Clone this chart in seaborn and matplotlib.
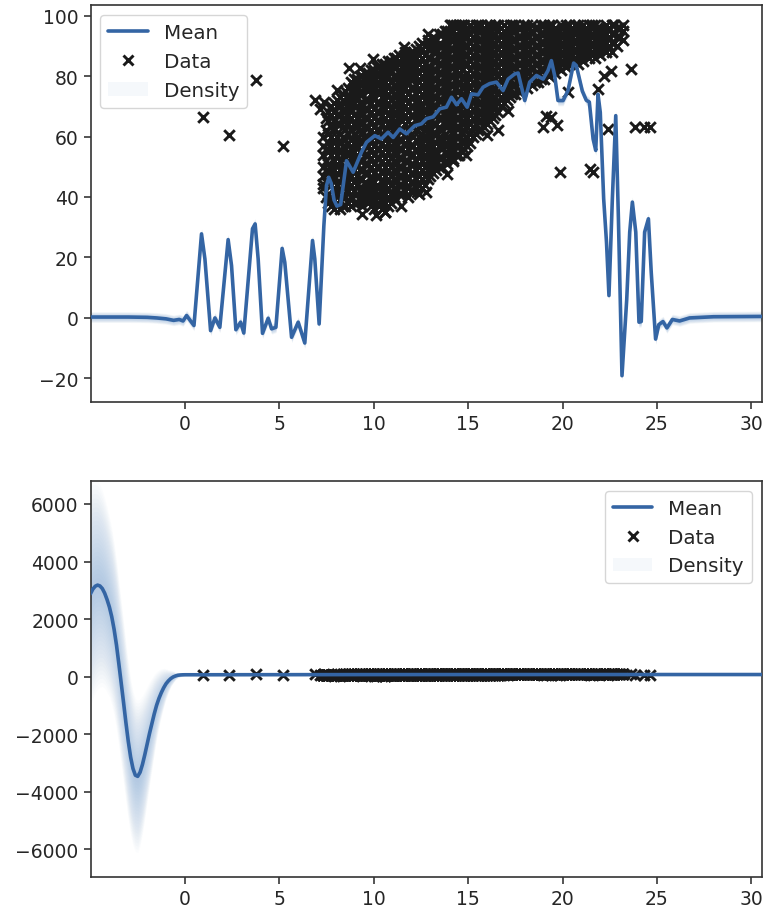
import numpy as np
import pandas as pd
import matplotlib
matplotlib.use("Agg")
import matplotlib.pyplot as plt
import seaborn as sns
from matplotlib.lines import Line2D
from matplotlib.patches import Patch

# ---------------- data ----------------
# isolated data points and ragged cloud edges
outlier_x = [0.97, 2.35, 3.76, 5.2, 6.88, 7.29, 7.55, 8.7, 10.59, 11.0, 12.27, 12.53, 13.5,
             14.12, 15.1, 13.2, 14.2, 15.62, 16.2, 16.59, 18.97, 19.1, 19.4, 19.7, 19.85,
             20.29, 21.44, 21.6, 21.88, 22.2, 22.41, 22.59, 22.7, 23.0, 23.64, 23.82, 24.3, 24.65,
             7.15, 7.35, 8.05, 9.25, 9.95, 11.6, 12.9, 10.1, 11.45, 12.75, 13.9, 14.9, 16.0,
             17.1, 9.4]
outlier_y = [66.4, 60.6, 78.8, 56.8, 72.2, 44.3, 56.0, 82.6, 35.0, 40.6, 41.6, 89.0, 91.0,
             97.0, 96.5, 50.6, 52.6, 67.5, 70.0, 62.0, 63.1, 66.7, 66.4, 63.7, 48.2,
             74.7, 49.3, 48.2, 75.8, 80.0, 62.5, 81.8, 97.0, 96.0, 82.4, 63.1, 63.1, 63.1,
             69.0, 71.5, 75.5, 82.5, 85.5, 89.5, 94.0, 34.0, 37.0, 41.5, 47.5, 54.0, 60.5,
             68.5, 34.5]

# dense cloud of data points, by column (first set)
cloud_x = [7.3, 7.6, 7.9, 8.2, 8.5, 8.8, 9.1, 9.4, 9.7, 10.0, 10.3, 10.6, 10.9, 11.2, 11.5,
           11.8, 12.1, 12.4, 12.7, 13.0, 13.3, 13.6, 13.9, 14.2, 14.5, 14.8, 15.1, 15.4,
           15.7, 16.0, 16.3, 16.6, 16.9, 17.2, 17.5, 17.8, 18.1, 18.4, 18.7, 19.0, 19.3,
           19.6, 19.9, 20.2, 20.5, 20.8, 21.1, 21.4, 21.7, 22.0, 22.3, 22.6, 22.9, 23.2]
cloud_y = [
    [43, 47, 50, 54, 57, 60],
    [38, 41, 45, 48, 51, 55, 58, 61, 65, 68],
    [36, 39, 43, 46, 49, 52, 56, 59, 62, 65, 68, 71],
    [36, 39, 42, 45, 49, 52, 55, 58, 61, 64, 67, 70, 73],
    [37, 40, 43, 46, 49, 53, 56, 59, 62, 65, 68, 71, 75],
    [37, 40, 44, 47, 50, 53, 56, 59, 62, 66, 69, 72, 75, 78],
    [38, 41, 44, 47, 51, 54, 57, 60, 63, 66, 70, 73, 76, 79],
    [37, 40, 43, 46, 49, 52, 55, 58, 61, 64, 67, 70, 74, 77, 80],
    [38, 41, 44, 48, 51, 54, 57, 60, 63, 66, 69, 72, 75, 78, 81],
    [36, 39, 42, 45, 48, 51, 54, 57, 60, 63, 66, 69, 73, 76, 79, 82],
    [37, 40, 43, 47, 50, 53, 56, 59, 62, 65, 68, 71, 74, 77, 80, 83],
    [35, 38, 41, 44, 47, 50, 53, 56, 59, 62, 66, 69, 72, 75, 78, 81, 84],
    [38, 41, 44, 47, 50, 53, 57, 60, 63, 66, 69, 72, 75, 78, 82, 85],
    [39, 42, 45, 48, 51, 54, 57, 60, 64, 67, 70, 73, 76, 79, 83, 86],
    [41, 44, 47, 50, 53, 56, 59, 62, 65, 68, 71, 74, 77, 80, 83, 86],
    [40, 43, 46, 49, 52, 56, 59, 62, 65, 68, 71, 74, 78, 81, 84, 87],
    [42, 45, 48, 51, 54, 57, 60, 63, 67, 70, 73, 76, 79, 82, 85, 88],
    [41, 44, 47, 50, 54, 57, 60, 63, 66, 69, 72, 75, 78, 81, 84, 87, 90],
    [44, 47, 50, 53, 56, 59, 62, 65, 68, 72, 75, 78, 81, 84, 87, 90],
    [47, 50, 53, 56, 59, 62, 65, 68, 71, 74, 77, 80, 83, 86, 89, 91],
    [49, 52, 55, 58, 61, 64, 67, 70, 73, 76, 79, 82, 85, 88, 92],
    [50, 53, 56, 59, 62, 66, 69, 72, 75, 78, 81, 84, 87, 90, 94],
    [51, 54, 57, 60, 63, 66, 69, 72, 75, 78, 81, 84, 87, 90, 93, 95],
    [52, 55, 58, 61, 64, 67, 70, 74, 77, 80, 83, 86, 89, 92, 95, 97],
    [54, 57, 60, 63, 66, 69, 72, 75, 78, 81, 84, 87, 90, 93, 97],
    [56, 59, 62, 65, 68, 71, 74, 77, 80, 84, 87, 90, 93, 95, 97],
    [58, 61, 64, 67, 70, 73, 76, 79, 82, 85, 88, 91, 94, 97],
    [61, 64, 67, 70, 73, 76, 79, 82, 85, 88, 91, 94, 97],
    [62, 65, 68, 71, 74, 77, 80, 83, 86, 89, 92, 95, 97],
    [64, 67, 70, 73, 76, 79, 82, 85, 88, 91, 94, 97],
    [66, 69, 72, 75, 78, 81, 84, 87, 90, 93, 96],
    [68, 71, 74, 77, 80, 83, 86, 89, 92, 95, 97],
    [71, 74, 77, 80, 83, 86, 89, 92, 95, 97],
    [73, 76, 79, 82, 85, 88, 91, 94, 97],
    [74, 77, 80, 83, 86, 89, 92, 95, 97],
    [75, 78, 81, 84, 87, 90, 93, 96],
    [76, 79, 82, 85, 88, 91, 94, 97],
    [77, 80, 83, 86, 89, 92, 95, 97],
    [78, 81, 84, 87, 90, 93, 96],
    [79, 82, 85, 88, 91, 94, 97],
    [80, 83, 86, 89, 92, 95, 97],
    [81, 84, 87, 90, 93, 96],
    [82, 85, 88, 91, 94, 97],
    [83, 86, 89, 92, 95, 97],
    [84, 87, 90, 93, 96],
    [84, 87, 90, 93, 95, 97],
    [85, 88, 91, 94, 97],
    [86, 89, 92, 95, 97],
    [86, 89, 92, 95, 97],
    [87, 90, 93, 96],
    [88, 91, 94, 97],
    [88, 91, 94, 97],
    [90, 93, 96],
    [92, 95, 97],
]

# dense cloud of data points, by column (second, in-between set)
cloud2_x = [7.45, 7.75, 8.05, 8.35, 8.65, 8.95, 9.25, 9.55, 9.85, 10.15, 10.45, 10.75,
            11.05, 11.35, 11.65, 11.95, 12.25, 12.55, 12.85, 13.15, 13.45, 13.75, 14.05,
            14.35, 14.65, 14.95, 15.25, 15.55, 15.85, 16.15, 16.45, 16.75, 17.05, 17.35,
            17.65, 17.95, 18.25, 18.55, 18.85, 19.15, 19.45, 19.75, 20.05, 20.35, 20.65,
            20.95, 21.25, 21.55, 21.85, 22.15, 22.45, 22.75, 23.05]
cloud2_y = [
    [40, 45, 49, 52, 56, 62, 66],
    [37, 40, 44, 47, 50, 54, 57, 60, 63, 67, 70],
    [38, 41, 44, 48, 51, 54, 57, 60, 64, 67, 70, 72],
    [37, 41, 44, 47, 50, 54, 57, 60, 63, 66, 69, 72, 74],
    [38, 42, 45, 48, 51, 54, 58, 61, 64, 67, 70, 73, 76],
    [38, 42, 45, 49, 52, 55, 58, 61, 64, 67, 71, 74, 77, 79],
    [39, 42, 46, 49, 52, 55, 59, 62, 65, 68, 71, 75, 78, 80],
    [39, 42, 45, 48, 51, 54, 57, 60, 63, 66, 69, 72, 76, 79, 81],
    [37, 40, 43, 46, 50, 53, 56, 59, 62, 65, 68, 71, 74, 77, 80, 82],
    [38, 41, 44, 47, 50, 53, 56, 59, 62, 65, 68, 71, 75, 78, 81, 83],
    [36, 39, 42, 45, 48, 52, 55, 58, 61, 64, 67, 70, 73, 76, 79, 82, 84],
    [37, 40, 43, 46, 49, 52, 55, 58, 61, 64, 67, 71, 74, 77, 80, 83, 85],
    [40, 43, 46, 49, 52, 55, 58, 62, 65, 68, 71, 74, 77, 80, 84, 86],
    [41, 44, 47, 50, 53, 56, 59, 62, 66, 69, 72, 75, 78, 81, 84, 87],
    [42, 45, 48, 52, 55, 58, 61, 64, 67, 70, 73, 76, 79, 82, 85, 88],
    [42, 45, 48, 51, 54, 57, 61, 64, 67, 70, 73, 76, 80, 83, 86, 88],
    [43, 46, 49, 52, 56, 59, 62, 65, 68, 71, 74, 77, 80, 83, 86, 89],
    [43, 46, 49, 52, 55, 58, 61, 64, 67, 70, 74, 77, 80, 83, 86, 89, 91],
    [46, 49, 52, 55, 58, 61, 64, 67, 70, 73, 76, 79, 82, 86, 89, 92],
    [48, 51, 54, 57, 61, 64, 67, 70, 73, 76, 79, 82, 85, 88, 91, 93],
    [50, 53, 57, 60, 63, 66, 69, 72, 75, 78, 81, 84, 87, 90, 94],
    [52, 55, 58, 61, 64, 67, 70, 74, 77, 80, 83, 86, 89, 92, 95],
    [53, 56, 59, 62, 65, 68, 71, 74, 77, 80, 83, 86, 89, 92, 95, 97],
    [54, 57, 60, 63, 66, 69, 72, 76, 79, 82, 85, 88, 91, 94, 97],
    [55, 58, 61, 64, 67, 70, 73, 76, 79, 82, 86, 89, 92, 95, 97],
    [57, 60, 63, 66, 69, 72, 75, 78, 81, 84, 87, 90, 93, 96],
    [60, 63, 66, 69, 72, 75, 78, 81, 84, 87, 90, 93, 96],
    [62, 65, 68, 71, 74, 77, 80, 83, 86, 89, 92, 95, 97],
    [63, 66, 69, 72, 75, 78, 81, 84, 87, 90, 93, 96],
    [65, 68, 71, 74, 77, 80, 83, 86, 89, 92, 95, 97],
    [67, 70, 73, 76, 79, 82, 85, 88, 91, 94, 97],
    [70, 73, 76, 79, 82, 85, 88, 91, 94, 96],
    [72, 75, 78, 81, 84, 87, 90, 93, 96],
    [74, 77, 80, 83, 86, 89, 92, 95, 97],
    [75, 78, 81, 84, 87, 90, 93, 96],
    [77, 80, 83, 86, 89, 92, 95, 97],
    [78, 81, 84, 87, 90, 93, 96],
    [78, 81, 84, 87, 90, 93, 96],
    [79, 82, 85, 88, 91, 94, 97],
    [81, 84, 87, 90, 93, 96],
    [82, 85, 88, 91, 94, 97],
    [83, 86, 89, 92, 95],
    [84, 87, 90, 93, 96],
    [85, 88, 91, 94, 97],
    [86, 89, 92, 95, 97],
    [86, 89, 92, 95],
    [87, 90, 93, 96],
    [88, 91, 94, 97],
    [88, 91, 94, 96],
    [89, 92, 95],
    [90, 93, 96],
    [91, 94, 97],
    [93, 96],
]

# top panel: predictive mean
top_mean_x = [-5.0, -3.0, -2.0, -1.5, -1.0, -0.6, -0.3, -0.1, 0.09, 0.3, 0.48, 0.88, 1.06,
              1.36, 1.59, 1.85, 2.29, 2.47, 2.70, 2.95, 3.12, 3.58, 3.72, 3.88, 4.11, 4.41,
              4.59, 4.82, 5.15, 5.29, 5.65, 6.0, 6.35, 6.76, 6.88, 7.11, 7.36, 7.50, 7.62,
              7.75, 7.90, 8.05, 8.25, 8.56, 8.91, 9.35, 9.62, 10.06, 10.41, 10.76, 11.03,
              11.38, 11.73, 12.18, 12.53, 12.8, 13.15, 13.5, 13.85, 14.12, 14.39, 14.65,
              14.95, 15.18, 15.53, 15.79, 16.14, 16.5, 16.85, 17.12, 17.47, 17.65, 18.0,
              18.26, 18.62, 18.97, 19.23, 19.41, 19.59, 19.76, 20.03, 20.29, 20.59, 20.73,
              21.05, 21.26, 21.42, 21.62, 21.76, 21.88, 22.0, 22.18, 22.33, 22.46, 22.64,
              22.82, 22.96, 23.15, 23.4, 23.56, 23.7, 23.88, 24.05, 24.17, 24.35, 24.55,
              24.7, 24.93, 25.1, 25.32, 25.53, 25.82, 26.2, 26.73, 28.0, 30.55]
top_mean_y = [0.3, 0.3, 0.2, 0.0, -0.3, -0.8, -0.5, -1.0, 0.8, -1.0, -2.5, 27.8, 19.5,
              -4.2, 0.0, -3.1, 25.9, 17.3, -3.9, -1.4, -5.0, 29.5, 31.1, 19.5, -5.1, -0.1,
              -3.6, -3.1, 23.0, 18.4, -6.4, -1.4, -8.3, 25.6, 19.5, -2.0, 30.5, 43.8, 46.5,
              44.5, 39.0, 37.0, 37.5, 52.0, 48.2, 54.8, 58.1, 60.3, 59.2, 61.4, 59.7,
              62.5, 60.9, 63.6, 64.2, 65.9, 66.5, 69.2, 69.7, 73.0, 70.5, 72.5,
              69.7, 74.1, 73.8, 76.3, 77.5, 78.0, 75.2, 79.0, 80.7, 81.0, 71.9,
              78.0, 80.2, 79.0, 81.8, 85.1, 80.0, 71.9, 71.9, 75.2, 84.3, 83.5,
              75.0, 72.0, 71.4, 59.2, 55.4, 74.0, 68.0, 39.4, 25.0, 7.4, 39.4,
              66.9, 33.0, -19.1, 6.0, 28.4, 38.3, 28.4, -1.4, -1.2, 28.4, 32.8,
              15.0, -7.0, -2.2, -1.2, -3.3, -0.5, -1.0, 0.0, 0.4, 0.5]
top_std = 0.7

# bottom panel: predictive mean and its standard deviation
bot_mean_x = [-5.0, -4.875, -4.75, -4.625, -4.5, -4.375, -4.25, -4.125, -4.0, -3.875,
              -3.75, -3.625, -3.5, -3.375, -3.25, -3.125, -3.0, -2.875, -2.75, -2.625,
              -2.5, -2.375, -2.25, -2.125, -2.0, -1.875, -1.75, -1.625, -1.5, -1.375,
              -1.25, -1.125, -1.0, -0.875, -0.75, -0.625, -0.5, -0.375, -0.25, -0.125,
              0.0, 0.5, 5.0, 10.0, 20.0, 30.55]
bot_mean_y = [2880, 3040, 3140, 3180, 3150, 3060, 2900, 2680, 2420, 2080,
              1640, 1100, 450, -220, -900, -1600, -2250, -2800, -3200, -3430,
              -3470, -3330, -3060, -2720, -2350, -1980, -1640, -1300, -1000, -760,
              -560, -390, -250, -150, -70, -15, 20, 45, 55, 60,
              62, 62, 65, 68, 70, 70]
bot_std = [1500, 1460, 1420, 1390, 1350, 1310, 1270, 1240, 1200, 1180,
           1150, 1130, 1100, 1090, 1080, 1060, 1050, 1040, 1030, 1020,
           1020, 980, 920, 850, 770, 690, 610, 530, 450, 380,
           320, 260, 200, 150, 110, 80, 50, 35, 25, 18,
           12, 8, 6, 6, 6, 6]

# ---------------- style ----------------
sns.set_theme(style="ticks")
plt.rcParams.update({
    "font.family": ["DejaVu Sans"],
    "xtick.labelsize": 13.5,
    "ytick.labelsize": 13.5,
    "legend.fontsize": 14.3,
    "axes.linewidth": 1.2,
    "xtick.major.width": 1.1,
    "ytick.major.width": 1.1,
    "xtick.major.size": 5,
    "ytick.major.size": 5,
    "axes.edgecolor": "#333333",
    "xtick.color": "#262626",
    "ytick.color": "#262626",
})

MEAN_C = "#3465a4"
DENS_C = "#729fcf"

data_x = list(outlier_x)
data_y = list(outlier_y)
for cx, ys in list(zip(cloud_x, cloud_y)) + list(zip(cloud2_x, cloud2_y)):
    data_x += [cx] * len(ys)
    data_y += ys
data = pd.DataFrame({"x": data_x, "y": data_y})

fig = plt.figure(figsize=(7.65, 9.12), dpi=100)
W, H = 765.0, 912.0
ax1 = fig.add_axes([90.5 / W, 1 - 403.3 / H, (761.7 - 90.5) / W, (403.3 - 6.0) / H])
ax2 = fig.add_axes([90.5 / W, 1 - 878.0 / H, (761.7 - 90.5) / W, (878.0 - 481.7) / H])


def draw_density(ax, x, m, s):
    x = np.asarray(x, float)
    m = np.asarray(m, float)
    s = np.asarray(s, float) * np.ones_like(m)
    for k in np.linspace(0.08, 2.6, 24):
        ax.fill_between(x, m - k * s, m + k * s, color=DENS_C, alpha=0.028,
                        linewidth=0, zorder=1)


def panel(ax, mx, my, sd, loc):
    draw_density(ax, mx, my, sd)
    sns.scatterplot(data=data, x="x", y="y", marker="x", color="k", s=58,
                    linewidth=2.1, ax=ax, legend=False, zorder=2)
    mean_df = pd.DataFrame({"x": mx, "y": my})
    sns.lineplot(data=mean_df, x="x", y="y", sort=False, estimator=None,
                 color=MEAN_C, linewidth=2.6, ax=ax, zorder=3)
    ax.set_xlabel("")
    ax.set_ylabel("")
    ax.set_xlim(-5.0, 30.55)
    ax.set_xticks([0, 5, 10, 15, 20, 25, 30])
    handles = [
        Line2D([], [], color=MEAN_C, lw=2.6),
        Line2D([], [], color="k", marker="x", ls="none", markersize=7.4, markeredgewidth=2.1),
        Patch(facecolor=DENS_C, alpha=0.07, edgecolor="none"),
    ]
    ax.legend(handles, ["Mean", "Data", "Density"], loc=loc, frameon=True,
              edgecolor="0.8", framealpha=0.8, fancybox=True)


panel(ax1, top_mean_x, top_mean_y, top_std, "upper left")
ax1.set_ylim(-27.9, 103.5)
ax1.set_yticks([-20, 0, 20, 40, 60, 80, 100])

panel(ax2, bot_mean_x, bot_mean_y, bot_std, "upper right")
ax2.set_ylim(-6970, 6810)
ax2.set_yticks([-6000, -4000, -2000, 0, 2000, 4000, 6000])

fig.savefig("out.png", dpi=100)
